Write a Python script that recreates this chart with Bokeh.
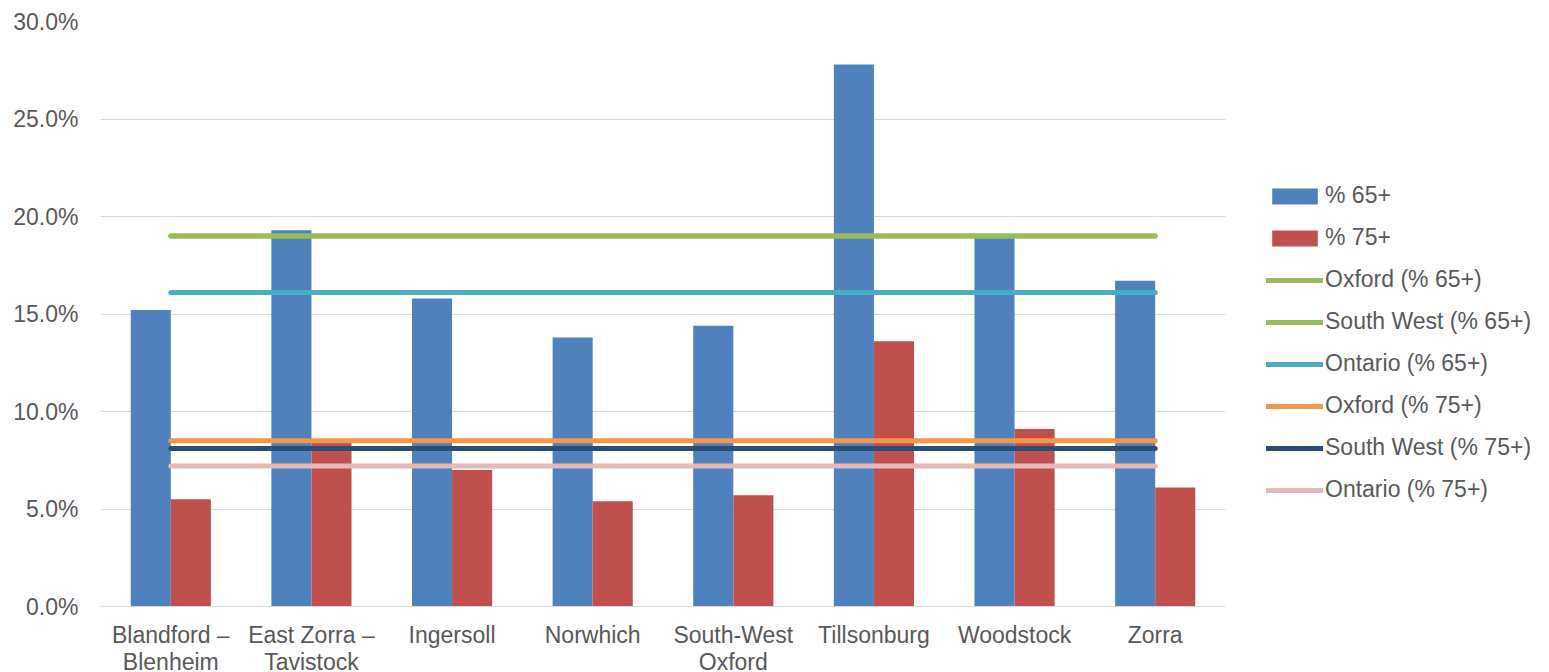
from bokeh.plotting import figure
from bokeh.models import Range1d, FactorRange, FixedTicker, PrintfTickFormatter, Legend, LegendItem, ColumnDataSource
from bokeh.transform import dodge
from bokeh.embed import file_html
from bokeh.resources import INLINE

# ---- data ----
categories = ["Blandford –\nBlenheim", "East Zorra –\nTavistock", "Ingersoll", "Norwhich",
              "South-West\nOxford", "Tillsonburg", "Woodstock", "Zorra"]
pct_65 = [15.2, 19.3, 15.8, 13.8, 14.4, 27.8, 18.9, 16.7]
pct_75 = [5.5, 8.4, 7.0, 5.4, 5.7, 13.6, 9.1, 6.1]

ref_names = ["Oxford (% 65+)", "South West (% 65+)", "Ontario (% 65+)",
             "Oxford (% 75+)", "South West (% 75+)", "Ontario (% 75+)"]
ref_values = [19.0, 19.0, 16.1, 8.5, 8.1, 7.2]
ref_colors = ["#9BBB59", "#9BBB59", "#4BACC6", "#F79646", "#2C4D75", "#E6B9B8"]

y_ticks = [0, 5, 10, 15, 20, 25, 30]

FONT = "Liberation Sans"
TXT = "#595959"
FS = "23px"

src = ColumnDataSource(dict(cat=categories, p65=pct_65, p75=pct_75))

p = figure(x_range=FactorRange(*categories), y_range=Range1d(0, 30),
           frame_width=1125, frame_height=585,
           min_border_left=100, min_border_top=21, min_border_right=324, min_border_bottom=66,
           output_backend="svg", toolbar_location=None)
p.x_range.range_padding = 0
p.x_range.factor_padding = 0

bw = 0.285
r65 = p.vbar(x=dodge("cat", -bw / 2, range=p.x_range), top="p65", width=bw, source=src,
             fill_color="#4F81BD", line_color=None)
r75 = p.vbar(x=dodge("cat", bw / 2, range=p.x_range), top="p75", width=bw, source=src,
             fill_color="#C0504D", line_color=None)

items = [LegendItem(label="% 65+", renderers=[r65]), LegendItem(label="% 75+", renderers=[r75])]
for name, v, c in zip(ref_names, ref_values, ref_colors):
    r = p.line(x=[categories[0], categories[-1]], y=[v, v], line_color=c, line_width=5, line_cap="round")
    items.append(LegendItem(label=name, renderers=[r]))

legend = Legend(items=items, location=(41, 103), orientation="vertical",
                border_line_color=None, background_fill_alpha=0, padding=0, margin=0,
                glyph_width=57, glyph_height=20, label_height=20, spacing=15,
                label_standoff=2, label_text_font=FONT, label_text_font_size=FS,
                label_text_color=TXT)
p.add_layout(legend, "right")

p.yaxis.ticker = FixedTicker(ticks=y_ticks)
p.yaxis.formatter = PrintfTickFormatter(format="%.1f%%")
p.yaxis.axis_line_color = None
p.yaxis.major_tick_line_color = None
p.yaxis.minor_tick_line_color = None
p.yaxis.major_label_text_font = FONT
p.yaxis.major_label_text_font_size = FS
p.yaxis.major_label_text_color = TXT
p.yaxis.major_label_standoff = 16

p.xaxis.axis_line_color = "#D9D9D9"
p.xaxis.major_tick_line_color = None
p.xaxis.minor_tick_line_color = None
p.xaxis.major_label_text_font = FONT
p.xaxis.major_label_text_font_size = FS
p.xaxis.major_label_text_color = TXT
p.xaxis.major_label_text_line_height = 1.05
p.xaxis.major_label_standoff = 9

p.xgrid.grid_line_color = None
p.ygrid.grid_line_color = "#D9D9D9"
p.ygrid.grid_line_width = 1
p.outline_line_color = None
p.background_fill_color = "white"
p.border_fill_color = "white"

open("out.html", "w").write(file_html(p, INLINE))
